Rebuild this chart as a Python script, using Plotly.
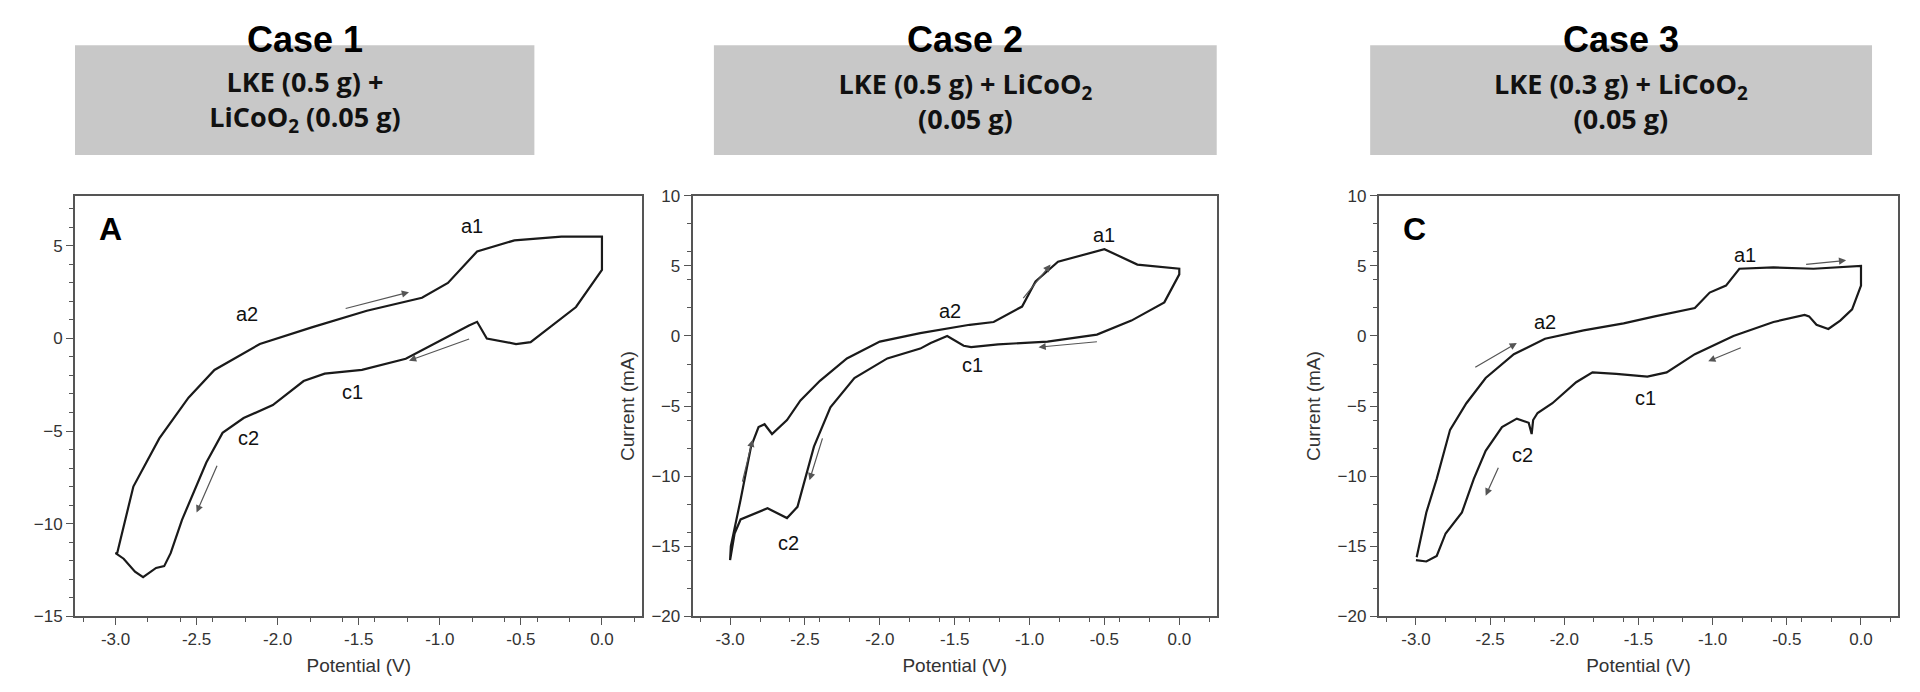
import plotly.graph_objects as go

# Case 1 (panel A): anodic sweep then cathodic return
v1 = [-2.99, -2.89, -2.73, -2.55, -2.39, -2.11, -1.79, -1.45, -1.11, -0.95, -0.77, -0.54, -0.25, 0.0,
      0.0, -0.16, -0.44, -0.53, -0.71, -0.77, -0.82, -1.21, -1.48, -1.71, -1.84, -2.03, -2.21, -2.34,
      -2.44, -2.59, -2.66, -2.70, -2.75, -2.83, -2.88, -2.95, -3.0, -2.99]
i1 = [-11.6, -8.0, -5.4, -3.2, -1.7, -0.3, 0.6, 1.5, 2.2, 3.0, 4.7, 5.3, 5.5, 5.5,
      3.7, 1.7, -0.2, -0.3, 0.0, 0.9, 0.7, -1.1, -1.7, -1.9, -2.3, -3.6, -4.3, -5.1,
      -6.7, -9.8, -11.6, -12.3, -12.4, -12.9, -12.6, -11.9, -11.6, -11.6]

# Case 2
v2 = [-3.0, -2.995, -2.93, -2.86, -2.81, -2.77, -2.72, -2.62, -2.53, -2.40, -2.22, -2.0, -1.73, -1.40,
      -1.24, -1.05, -0.96, -0.81, -0.50, -0.28, 0.0,
      0.0, -0.10, -0.32, -0.55, -0.88, -1.21, -1.39, -1.44, -1.55, -1.66, -1.73, -1.95, -2.17, -2.33,
      -2.44, -2.55, -2.62, -2.75, -2.93, -2.97, -3.0]
i2 = [-16.0, -15.0, -11.7, -7.9, -6.5, -6.3, -7.0, -6.0, -4.6, -3.2, -1.6, -0.4, 0.2, 0.8,
      1.0, 2.1, 3.9, 5.3, 6.2, 5.1, 4.8,
      4.4, 2.4, 1.1, 0.1, -0.4, -0.6, -0.8, -0.7, 0.0, -0.5, -0.9, -1.6, -3.0, -5.1,
      -7.9, -12.2, -13.0, -12.3, -13.1, -14.1, -16.0]

# Case 3 (panel C)
v3 = [-2.995, -2.93, -2.86, -2.77, -2.66, -2.53, -2.34, -2.13, -1.87, -1.60, -1.39, -1.12, -1.02, -0.91,
      -0.82, -0.59, -0.32, 0.0,
      0.0, -0.06, -0.14, -0.22, -0.30, -0.35, -0.38, -0.59, -0.86, -1.12, -1.31, -1.44, -1.65, -1.81,
      -1.92, -2.08, -2.18, -2.21, -2.22, -2.24, -2.32, -2.42, -2.53, -2.61, -2.69, -2.80, -2.86, -2.93,
      -3.0]
i3 = [-15.8, -12.6, -10.2, -6.7, -4.8, -3.0, -1.3, -0.2, 0.4, 0.9, 1.4, 2.0, 3.1, 3.6,
      4.8, 4.9, 4.8, 5.0,
      3.6, 1.9, 1.1, 0.5, 0.8, 1.4, 1.5, 1.0, 0.0, -1.3, -2.6, -2.9, -2.7, -2.6,
      -3.3, -4.8, -5.5, -6.0, -7.0, -6.2, -5.9, -6.5, -8.2, -10.2, -12.6, -14.1, -15.7, -16.1,
      -16.0]

titles = ["Case 1", "Case 2", "Case 3"]
boxes = ["LKE (0.5 g) +<br>LiCoO<sub>2</sub> (0.05 g)",
         "LKE (0.5 g) + LiCoO<sub>2</sub><br>(0.05 g)",
         "LKE (0.3 g) + LiCoO<sub>2</sub><br>(0.05 g)"]
panel_letters = ["A", "", "C"]

# peak labels: (text, V, I)
peaks = [
    [("a1", -0.80, 6.1), ("a2", -2.19, 1.3), ("c1", -1.54, -2.9), ("c2", -2.18, -5.4)],
    [("a1", -0.50, 7.2), ("a2", -1.53, 1.8), ("c1", -1.38, -2.1), ("c2", -2.61, -14.8)],
    [("a1", -0.78, 5.8), ("a2", -2.13, 1.0), ("c1", -1.45, -4.4), ("c2", -2.28, -8.5)],
]
# sweep arrows: (V0, I0, V1, I1) tail -> head
arrows = [
    [(-1.59, 1.6, -1.19, 2.5), (-0.81, 0.0, -1.19, -1.2), (-2.37, -6.8, -2.50, -9.4)],
    [(-2.92, -10.5, -2.85, -7.4), (-2.38, -7.2, -2.47, -10.3), (-1.05, 2.6, -0.86, 5.1), (-0.54, -0.4, -0.94, -0.8)],
    [(-2.61, -2.3, -2.32, -0.5), (-0.38, 5.1, -0.10, 5.4), (-0.80, -0.8, -1.03, -1.8), (-2.44, -9.3, -2.53, -11.4)],
]

W, H = 1920, 692
xdoms = [[0, 588 / W], [640 / W, 1183 / W], [1351 / W, 1889 / W]]
ydom = [1 - 616 / H, 1 - 184 / H]
yranges = [[-15, 7.7], [-20, 10], [-20, 10]]
yticks = [[-15, -10, -5, 0, 5], [-20, -15, -10, -5, 0, 5, 10], [-20, -15, -10, -5, 0, 5, 10]]

fig = go.Figure()
series = [(v1, i1), (v2, i2), (v3, i3)]
for k, (vx, iy) in enumerate(series):
    n = "" if k == 0 else str(k + 1)
    fig.add_trace(go.Scatter(x=vx, y=iy, mode="lines", line=dict(color="#1a1a1a", width=2.2),
                             xaxis="x" + n, yaxis="y" + n, showlegend=False))
    axstyle = dict(showline=True, mirror=True, linecolor="#555", linewidth=2, ticks="outside",
                   ticklen=7, tickcolor="#555", showgrid=False, zeroline=False,
                   tickfont=dict(family="Liberation Sans", size=17, color="#333"),
                   minor=dict(ticks="outside", ticklen=4, tickcolor="#555"))
    fig.update_layout(**{
        "xaxis" + n: dict(domain=xdoms[k], range=[-3.25, 0.25], tickvals=[-3, -2.5, -2, -1.5, -1, -0.5, 0],
                          ticktext=["-3.0", "-2.5", "-2.0", "-1.5", "-1.0", "-0.5", "0.0"],
                          anchor="y" + n,
                          title=dict(text="Potential (V)", font=dict(family="Liberation Sans", size=19, color="#333"),
                                     standoff=10), **axstyle),
        "yaxis" + n: dict(domain=ydom, range=yranges[k], tickvals=yticks[k], anchor="x" + n,
                          title=dict(text="" if k == 0 else "Current (mA)",
                                     font=dict(family="Liberation Sans", size=19, color="#333"), standoff=12),
                          **axstyle),
    })
    xr, yr = "x" + n, "y" + n
    for txt, px, py in peaks[k]:
        fig.add_annotation(x=px, y=py, xref=xr, yref=yr, text=txt, showarrow=False,
                           font=dict(family="Liberation Sans", size=20, color="#111"))
    for a0, b0, a1, b1 in arrows[k]:
        fig.add_annotation(x=a1, y=b1, ax=a0, ay=b0, xref=xr, yref=yr, axref=xr, ayref=yr, text="",
                           showarrow=True, arrowhead=2, arrowsize=1.2, arrowwidth=1.2, arrowcolor="#555")
    if panel_letters[k]:
        fig.add_annotation(x=xdoms[k][0] + 0.012, y=ydom[1] - 0.02, xref="paper", yref="paper",
                           xanchor="left", yanchor="top", text="<b>%s</b>" % panel_letters[k], showarrow=False,
                           font=dict(family="Liberation Sans", size=32, color="#000"))

box_x = [[0, 476], [662, 1183], [1342, 1862]]
for k in range(3):
    x0, x1 = box_x[k][0] / W, box_x[k][1] / W
    fig.add_shape(type="rect", xref="paper", yref="paper", x0=x0, x1=x1, y0=1 - 142 / H, y1=1 - 29 / H,
                  fillcolor="#c8c8c8", line=dict(width=0), layer="below")
    fig.add_annotation(x=(x0 + x1) / 2, y=1 - 86 / H, xref="paper", yref="paper", text="<b>%s</b>" % boxes[k],
                       showarrow=False, xanchor="center", yanchor="middle",
                       width=box_x[k][1] - box_x[k][0] - 20, align="center",
                       font=dict(family="Open Sans", size=27, color="#111"))
    fig.add_annotation(x=(x0 + x1) / 2, y=1.0, xref="paper", yref="paper", text="<b>%s</b>" % titles[k],
                       showarrow=False, xanchor="center", yanchor="top",
                       font=dict(family="Liberation Sans", size=36, color="#000"))

fig.update_layout(width=W, height=H, margin=dict(l=0, r=0, t=0, b=0),
                  plot_bgcolor="white", paper_bgcolor="white")
fig.write_html("out.html")
